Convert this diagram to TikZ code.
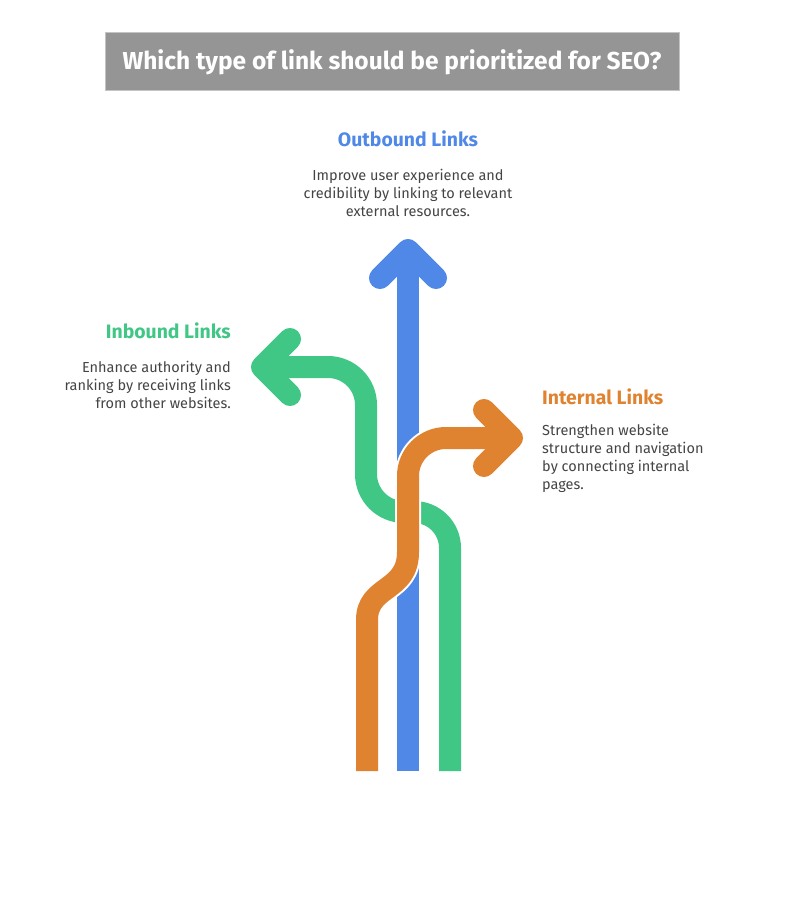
\documentclass[tikz,border=0pt]{standalone}
\usepackage{fontspec}
\setmainfont{Fira Sans}
\definecolor{cblue}{HTML}{4F88E6}
\definecolor{cgreen}{HTML}{40C785}
\definecolor{corange}{HTML}{E08330}
\definecolor{ctitle}{HTML}{959595}
\definecolor{cborder}{HTML}{C4C4C4}
\definecolor{ctext}{HTML}{444444}
\begin{document}
\begin{tikzpicture}[x=1pt,y=-1pt,
  band/.style={line width=22pt,line cap=butt,line join=round},
  whiteband/.style={line width=26pt,line cap=butt,line join=round,white},
  chevron/.style={line width=22pt,line cap=round,line join=round},
  heading/.style={font=\fontsize{19.4}{23}\selectfont\bfseries,inner sep=0pt},
  body/.style={font=\fontsize{14.5}{18}\selectfont,text=ctext,inner sep=0pt}]
\useasboundingbox (0,0) rectangle (785,904);
% title
\node[draw=cborder,fill=ctitle,line width=1pt,minimum width=574pt,minimum height=58pt,
  text=white,font=\fontsize{24.5}{28}\selectfont\bfseries] (title) at (392,62)
  {Which type of link should be prioritized for SEO?};
% coordinates
\coordinate (gB) at (450,771);
\coordinate (bB) at (408,771);
\coordinate (oB) at (367,771);
% green band
\draw[band,cgreen] (gB) -- (450,548) arc[start angle=0,end angle=-90,radius=36]
  -- (404,512) arc[start angle=90,end angle=180,radius=38] -- (366,405)
  arc[start angle=0,end angle=-90,radius=38] -- (262,367);
\draw[chevron,cgreen] (290,339) -- (262,367) -- (290,395);
% blue band
\draw[whiteband] (bB) -- (408,252);
\draw[band,cblue] (bB) -- (408,252);
\draw[chevron,cblue] (380,278) -- (408,250) -- (436,278);
% orange band
\draw[whiteband] (oB) -- (367,620) .. controls (367,585) and (408,592) .. (408,552)
  -- (408,476) arc[start angle=180,end angle=270,radius=38] -- (512,438);
\draw[band,corange] (oB) -- (367,620) .. controls (367,585) and (408,592) .. (408,552)
  -- (408,476) arc[start angle=180,end angle=270,radius=38] -- (512,438);
\draw[chevron,corange] (484,410) -- (512,438) -- (484,466);
% texts
\node[heading,text=cblue] (outh) at (408,139) {Outbound Links};
\node[body,align=center,anchor=north] (outb) at (408,169)
  {Improve user experience and\\credibility by linking to relevant\\external resources.};
\node[heading,text=cgreen,anchor=east] (inh) at (231,331) {Inbound Links};
\node[body,align=right,anchor=north east] (inb) at (231,361)
  {Enhance authority and\\ranking by receiving links\\from other websites.};
\node[heading,text=corange,anchor=west] (inth) at (542,397) {Internal Links};
\node[body,align=left,anchor=north west] (intb) at (542,424)
  {Strengthen website\\structure and navigation\\by connecting internal\\pages.};
\end{tikzpicture}
\end{document}
